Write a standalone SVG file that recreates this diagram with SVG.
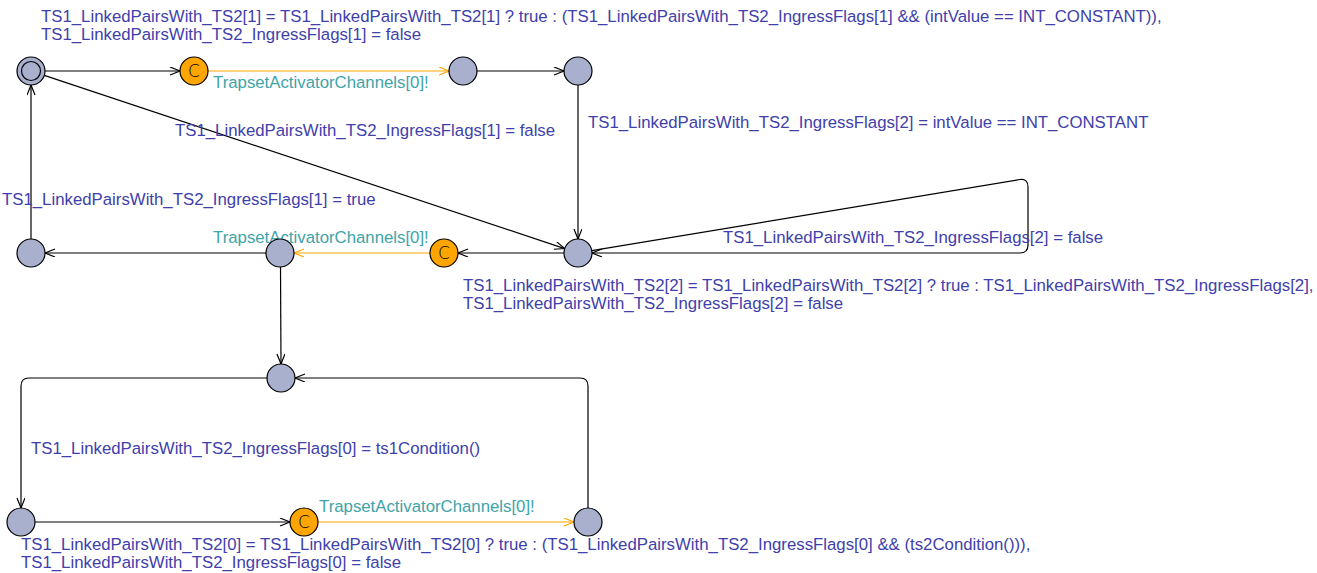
<svg xmlns="http://www.w3.org/2000/svg" width="1317" height="573" viewBox="0 0 1317 573">
<defs>
<style>
.bg{fill:#ffffff}
.loc{fill:#a8b0cd;stroke:#000;stroke-width:1.2}
.com{fill:#ffa500;stroke:#000;stroke-width:1.2}
.e{fill:none;stroke:#000;stroke-width:1.2}
.eo{fill:none;stroke:#ffa500;stroke-width:1.2}
.a{font-family:"Liberation Sans",Arial,sans-serif;font-size:16.8px;fill:#4040ac}
.s{font-family:"Liberation Sans",Arial,sans-serif;font-size:16.8px;fill:#40a4a8}
.c{font-family:"DejaVu Sans",sans-serif;font-weight:200;font-size:17px;fill:#000;text-anchor:middle}
</style>
<marker id="ab" markerWidth="12" markerHeight="10" refX="11" refY="4" orient="auto" markerUnits="userSpaceOnUse"><path d="M1,0 L11,4 L1,8" fill="none" stroke="#000" stroke-width="1.2"/></marker>
<marker id="ao" markerWidth="12" markerHeight="10" refX="11" refY="4" orient="auto" markerUnits="userSpaceOnUse"><path d="M1,0 L11,4 L1,8" fill="none" stroke="#ffa500" stroke-width="1.2"/></marker>
</defs>
<rect class="bg" x="0" y="0" width="1317" height="573"/>
<g id="edges">
<line class="e" x1="45" y1="71" x2="180" y2="71" marker-end="url(#ab)"/>
<line class="eo" x1="208" y1="71" x2="449" y2="71" marker-end="url(#ao)"/>
<line class="e" x1="477" y1="71" x2="564" y2="71" marker-end="url(#ab)"/>
<line class="e" x1="578" y1="85" x2="578" y2="239" marker-end="url(#ab)"/>
<line class="e" x1="44.3" y1="75.4" x2="564.7" y2="248.6" marker-end="url(#ab)"/>
<path class="e" d="M591.8,250.7 L1020,179.5 Q1028,178.5 1028,187 L1028,245 Q1028,253 1020,253 L592,253" marker-end="url(#ab)"/>
<line class="e" x1="564" y1="253" x2="458" y2="253" marker-end="url(#ab)"/>
<line class="eo" x1="430" y1="253" x2="294" y2="253" marker-end="url(#ao)"/>
<line class="e" x1="266" y1="253" x2="45" y2="253" marker-end="url(#ab)"/>
<line class="e" x1="31" y1="239" x2="31" y2="85" marker-end="url(#ab)"/>
<line class="e" x1="280.5" y1="267" x2="281" y2="364" marker-end="url(#ab)"/>
<path class="e" d="M267,378 L29,378 Q21,378 21,386 L21,508" marker-end="url(#ab)"/>
<line class="e" x1="35" y1="522" x2="290" y2="522" marker-end="url(#ab)"/>
<line class="eo" x1="318" y1="522" x2="574" y2="522" marker-end="url(#ao)"/>
<path class="e" d="M588,508 L588,386 Q588,378 580,378 L295,378" marker-end="url(#ab)"/>
</g>
<g id="labels">
<text class="a" x="41" y="22">TS1_LinkedPairsWith_TS2[1] = TS1_LinkedPairsWith_TS2[1] ? true : (TS1_LinkedPairsWith_TS2_IngressFlags[1] &amp;&amp; (intValue == INT_CONSTANT)),</text>
<text class="a" x="41" y="40">TS1_LinkedPairsWith_TS2_IngressFlags[1] = false</text>
<text class="s" x="213" y="88">TrapsetActivatorChannels[0]!</text>
<text class="a" x="175" y="136">TS1_LinkedPairsWith_TS2_IngressFlags[1] = false</text>
<text class="a" x="588" y="128">TS1_LinkedPairsWith_TS2_IngressFlags[2] = intValue == INT_CONSTANT</text>
<text class="a" x="2" y="205">TS1_LinkedPairsWith_TS2_IngressFlags[1] = true</text>
<text class="s" x="213" y="243">TrapsetActivatorChannels[0]!</text>
<text class="a" x="723" y="243">TS1_LinkedPairsWith_TS2_IngressFlags[2] = false</text>
<text class="a" x="463" y="291">TS1_LinkedPairsWith_TS2[2] = TS1_LinkedPairsWith_TS2[2] ? true : TS1_LinkedPairsWith_TS2_IngressFlags[2],</text>
<text class="a" x="463" y="309">TS1_LinkedPairsWith_TS2_IngressFlags[2] = false</text>
<text class="a" x="31" y="454">TS1_LinkedPairsWith_TS2_IngressFlags[0] = ts1Condition()</text>
<text class="s" x="319" y="512">TrapsetActivatorChannels[0]!</text>
<text class="a" x="21" y="550">TS1_LinkedPairsWith_TS2[0] = TS1_LinkedPairsWith_TS2[0] ? true : (TS1_LinkedPairsWith_TS2_IngressFlags[0] &amp;&amp; (ts2Condition())),</text>
<text class="a" x="21" y="568">TS1_LinkedPairsWith_TS2_IngressFlags[0] = false</text>
</g>
<g id="n0"><circle class="loc" cx="31" cy="71" r="14"/><circle class="e" cx="31" cy="71" r="9.5"/></g>
<g id="c1"><circle class="com" cx="194" cy="71" r="14"/><text class="c" x="194" y="77">C</text></g>
<g id="n2"><circle class="loc" cx="463" cy="71" r="14"/></g>
<g id="n3"><circle class="loc" cx="578" cy="71" r="14"/></g>
<g id="n4"><circle class="loc" cx="578" cy="253" r="14"/></g>
<g id="c2"><circle class="com" cx="444" cy="253" r="14"/><text class="c" x="444" y="259">C</text></g>
<g id="n5"><circle class="loc" cx="280" cy="253" r="14"/></g>
<g id="n6"><circle class="loc" cx="31" cy="253" r="14"/></g>
<g id="n7"><circle class="loc" cx="281" cy="378" r="14"/></g>
<g id="n8"><circle class="loc" cx="21" cy="522" r="14"/></g>
<g id="c3"><circle class="com" cx="304" cy="522" r="14"/><text class="c" x="304" y="528">C</text></g>
<g id="n9"><circle class="loc" cx="588" cy="522" r="14"/></g>
</svg>
